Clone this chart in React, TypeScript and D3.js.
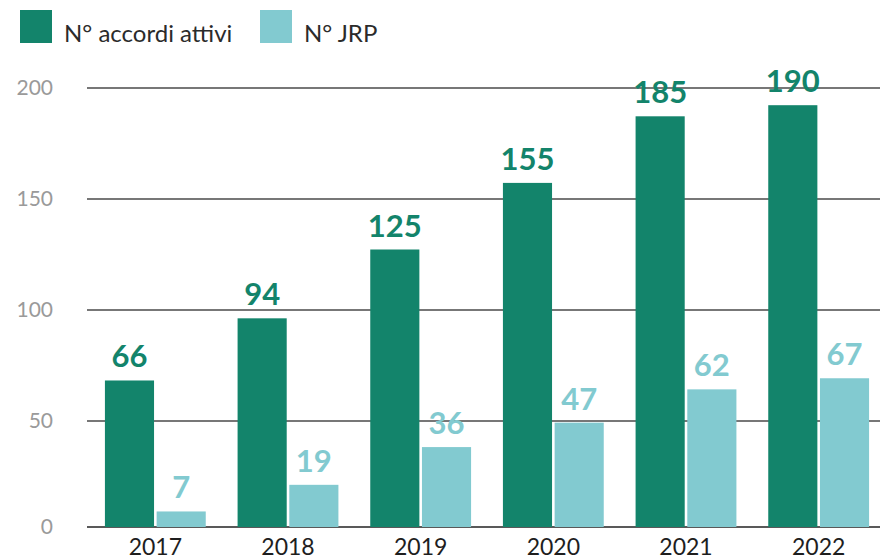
import React from 'react';
import * as d3 from 'd3';

const years = ['2017', '2018', '2019', '2020', '2021', '2022'];
const accordi = [66, 94, 125, 155, 185, 190];
const jrp = [7, 19, 36, 47, 62, 67];
const seriesNames = ['N° accordi attivi', 'N° JRP'];
const seriesColors = ['#13846b', '#82cad0'];
const yTicks = [0, 50, 100, 150, 200];

const W = 880;
const H = 560;
const FONT = 'Lato, "Open Sans", sans-serif';

export default function App() {
    const x = d3.scaleBand().domain(years).range([89, 885]).paddingInner(0.24).paddingOuter(0.12);
    const xs = d3.scaleBand().domain(seriesNames).range([0, x.bandwidth()]).paddingInner(0.05);
    // bars sit on the axis line, grid lines are placed a little lower in the original
    const y = d3.scaleLinear().domain([0, 200]).range([527, 83]);
    const yGrid = d3.scaleLinear().domain([0, 200]).range([532, 88]);

    const rows = years.map((yr, i) => ({ yr, vals: [accordi[i], jrp[i]] }));

    return (
        <svg width={W} height={H} style={{ position: 'absolute', left: 0, top: 0, background: '#fff' }}>
            {/* legend */}
            {seriesNames.map((name, i) => {
                const lx = i === 0 ? 20 : 260;
                return (
                    <g key={name}>
                        <rect x={lx} y={10} width={32} height={33} fill={seriesColors[i]} />
                        <text x={lx + 44} y={42} fontFamily={FONT} fontSize={24} fill="#2b2b2b">{name}</text>
                    </g>
                );
            })}

            {/* grid + y labels */}
            {yTicks.map(t => {
                const gy = t === 0 ? y(0) : yGrid(t);
                return (
                    <g key={t}>
                        <line x1={87} x2={W} y1={gy} y2={gy} stroke={t === 0 ? '#222' : '#4a4a4a'} strokeWidth={1.5} />
                        <text x={53} y={gy} dy="0.35em" textAnchor="end" fontFamily={FONT} fontSize={21} fill="#9a9a9a">{t}</text>
                    </g>
                );
            })}

            {/* bars */}
            {rows.map(r => (
                <g key={r.yr} transform={`translate(${x(r.yr)},0)`}>
                    {r.vals.map((v, i) => (
                        <g key={i}>
                            <rect x={xs(seriesNames[i])} y={y(v)} width={xs.bandwidth()} height={y(0) - y(v)} fill={seriesColors[i]} />
                            <text
                                x={(xs(seriesNames[i]) as number) + xs.bandwidth() / 2}
                                y={y(v) - 13}
                                textAnchor="middle"
                                fontFamily={FONT}
                                fontWeight={700}
                                fontSize={31}
                                fill={seriesColors[i]}
                            >{v}</text>
                        </g>
                    ))}
                    <text x={x.bandwidth() / 2} y={555} textAnchor="middle" fontFamily={FONT} fontSize={23} fill="#1e1e1e">{r.yr}</text>
                </g>
            ))}
        </svg>
    );
}
